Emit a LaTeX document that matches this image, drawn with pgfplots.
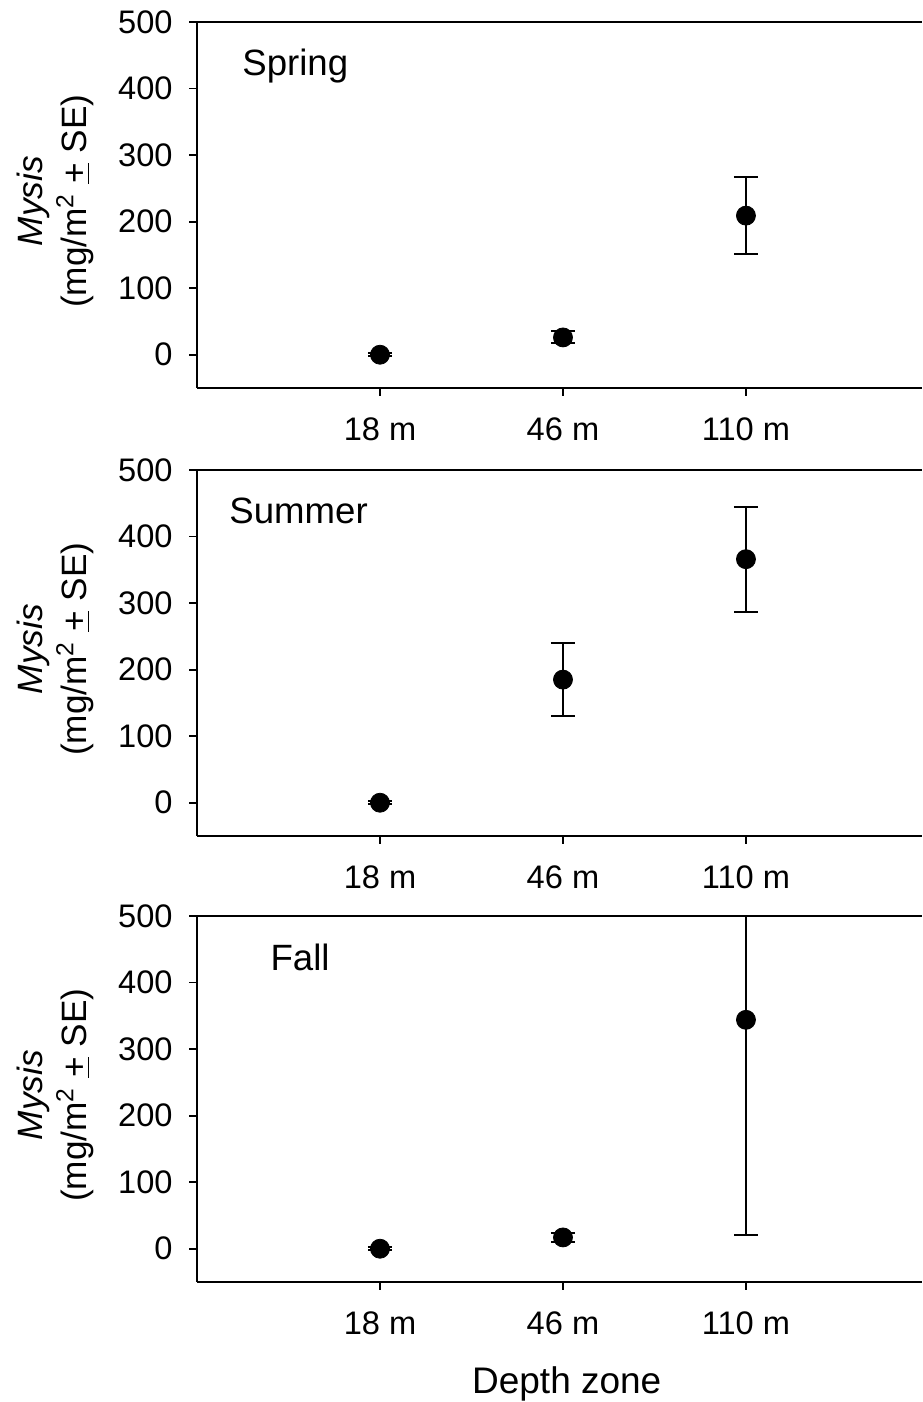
\documentclass[border=0pt]{standalone}
\usepackage{fontspec}
\setmainfont{Liberation Sans}
\usepackage{pgfplots}
\pgfplotsset{compat=1.18}

\pgfplotsset{
  panel/.style={
    scale only axis, width=362.5pt, height=183pt,
    xmin=0, xmax=3.962, ymin=-50, ymax=500,
    axis x line=box, axis y line=left,
    axis line style={line width=0.9pt, -},
    every outer x axis line/.append style={-},
    every outer y axis line/.append style={-},
    xtick={1,2,3}, xticklabels={18 m,46 m,110 m},
    ytick={0,100,200,300,400,500},
    xtick pos=bottom, ytick pos=left,
    tick align=outside, major tick length=4pt,
    tick style={line width=0.9pt, black},
    /pgf/number format/assume math mode=true,
    yticklabel style={font=\fontsize{16.3}{18}\selectfont, xshift=-4.7pt},
    xticklabel style={font=\fontsize{16.3}{18}\selectfont, yshift=-7.3pt},
    ylabel={\textit{Mysis}\\(mg/m\textsuperscript{2} \underline{+} SE)},
    ylabel style={at={(axis description cs:-0.196,0.51)}, anchor=center, rotate=0, align=center, font=\fontsize{17.6}{22}\selectfont},
    clip=true,
  },
  pts/.style={only marks, mark=*, mark size=4.75pt, black, mark options={fill=black, draw=black},
    error bars/.cd, y dir=both, y explicit,
    error bar style={line width=1pt, black},
    error mark options={rotate=90, mark size=6pt, line width=1pt, black}},
}

\begin{document}
\begin{tikzpicture}
\useasboundingbox (0,0) rectangle (461pt,701pt);

% Spring
\begin{axis}[panel, at={(98.5pt,507pt)}, anchor=south west]
\addplot[pts] coordinates {(1,0) +- (0,2) (2,26) +- (0,9) (3,209) +- (0,58)};
\node[anchor=base west, font=\fontsize{18.3}{20}\selectfont, inner sep=0pt] at (axis cs:0.246,420) {Spring};
\end{axis}

% Summer
\begin{axis}[panel, at={(98.5pt,283pt)}, anchor=south west]
\addplot[pts] coordinates {(1,0) +- (0,2) (2,185) +- (0,55) (3,366) +- (0,79)};
\node[anchor=base west, font=\fontsize{18.3}{20}\selectfont, inner sep=0pt] at (axis cs:0.175,419) {Summer};
\end{axis}

% Fall
\begin{axis}[panel, at={(98.5pt,60pt)}, anchor=south west,
  xlabel={Depth zone},
  xlabel style={at={(axis description cs:0.51,0)}, anchor=base, yshift=-55.5pt, font=\fontsize{18.5}{20}\selectfont}]
\addplot[pts] coordinates {(1,0) +- (0,2) (2,17) +- (0,7) (3,344) +- (0,324)};
\node[anchor=base west, font=\fontsize{18.3}{20}\selectfont, inner sep=0pt] at (axis cs:0.40,418) {Fall};
\end{axis}
\end{tikzpicture}
\end{document}
